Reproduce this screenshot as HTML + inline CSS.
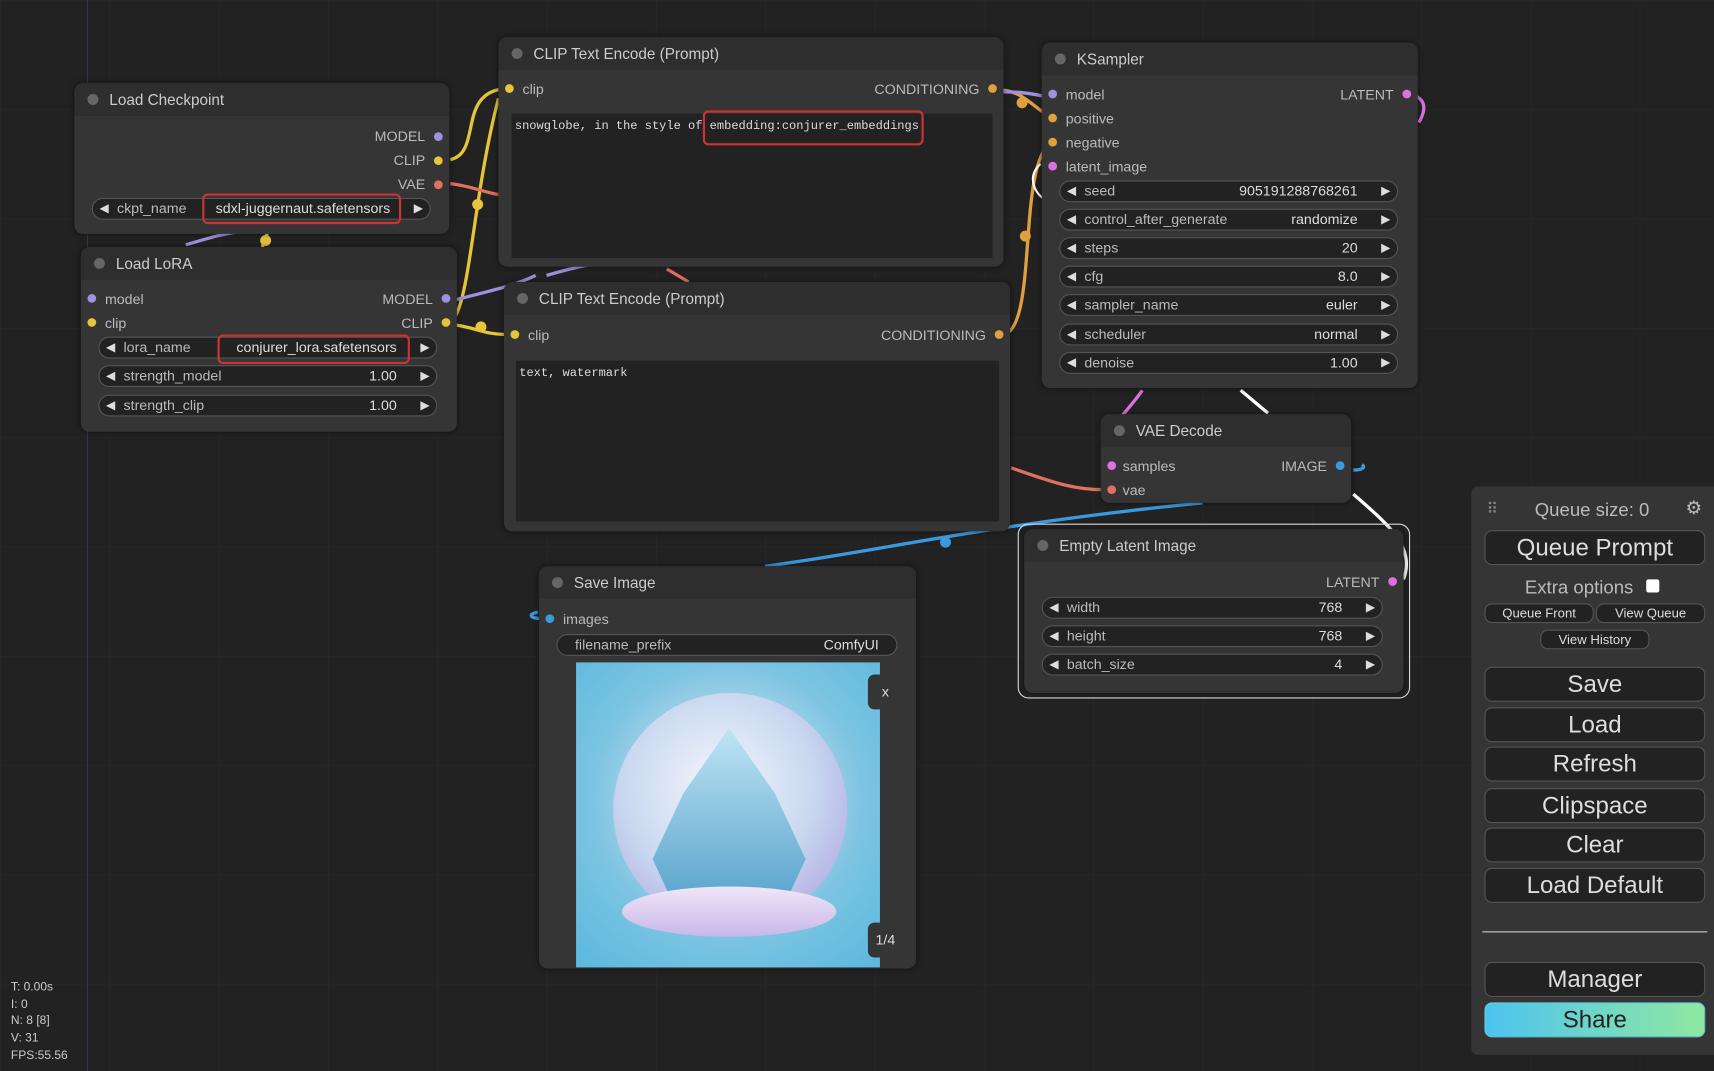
<!DOCTYPE html>
<html><head><meta charset="utf-8">
<style>
*{box-sizing:border-box;margin:0;padding:0}
html,body{width:1714px;height:1071px;overflow:hidden;background:#222}
#w{position:absolute;left:0;top:0;width:1568px;height:980px;transform:scale(1.0931);transform-origin:0 0;font-family:"Liberation Sans",sans-serif;color:#ddd;
background-color:#222;background-image:linear-gradient(#262626 1px,transparent 1px),linear-gradient(90deg,#262626 1px,transparent 1px);background-size:100px 100px}
.n{position:absolute;background:#353535;border-radius:8px;box-shadow:0 0 6px rgba(0,0,0,.5)}
.t{height:30px;background:#2e2e2e;border-radius:8px 8px 0 0;font-size:14px;color:#ccc;line-height:30px;padding-left:32px;position:relative}
.t:before{content:"";position:absolute;left:12px;top:10px;width:10px;height:10px;border-radius:50%;background:#666}
.a{position:absolute;font-size:13px;color:#bbb}
.d{position:absolute;width:8px;height:8px;border-radius:50%}
.wd{position:absolute;height:20px;border:1px solid #555;background:#222;border-radius:10px;font-size:13px;color:#bbb;line-height:18px}
.wd .l{position:absolute;left:22px}.wd .v{position:absolute;right:36px;color:#ddd}
.wd:before{content:"◀";position:absolute;left:6px;font-size:11px;color:#ddd}
.wd:after{content:"▶";position:absolute;right:6px;font-size:11px;color:#ddd}
.wd.na:before,.wd.na:after{content:none}
.ta{position:absolute;background:#222;font-family:"Liberation Mono",monospace;font-size:11px;color:#ddd;padding:6px 3px}
.red{position:absolute;border:2px solid #c33;border-radius:5px}
.b{position:absolute;left:12px;width:202px;height:32px;background:#222;border:1px solid #555;border-radius:7px;color:#ddd;font-size:22px;text-align:center;line-height:30px}
.sb{position:absolute;height:18px;background:#222;border:1px solid #555;border-radius:7px;color:#ddd;font-size:12px;text-align:center;line-height:16px}
</style></head><body><div id="w">
<svg width="1568" height="980" style="position:absolute;left:0;top:0" fill="none" stroke-width="3">
<path d="M80 0V980" stroke="#2c3a4c" stroke-width="1"/>
<path d="M412 146 C440 140,420 90,456 82" stroke="#e8c43a"/>
<path d="M408 296 C430 296,430 190,456 90" stroke="#e8c43a"/>
<path d="M408 296 C440 300,440 306,466 306" stroke="#e8c43a"/>
<path d="M412 168 C430 170,440 175,456 178" stroke="#e07060"/>
<path d="M170 224 C200 215,200 215,230 210" stroke="#a090e0"/>
<path d="M240 226 L245 212" stroke="#e8c43a"/>
<path d="M418 274 C440 268,470 262,490 252 M500 252 C520 246,530 244,540 242" stroke="#a090e0"/>
<path d="M610 246 L630 258" stroke="#e07060"/>
<path d="M910 82 C935 82,940 94,962 108" stroke="#e0a040"/>
<path d="M918 306 C950 300,930 150,962 130" stroke="#e0a040"/>
<path d="M918 84 C935 84,945 86,955 88" stroke="#a090e0"/>
<path d="M1290 86 C1305 90,1305 100,1298 112" stroke="#e070e0"/>
<path d="M952 150 C940 160,945 175,955 182" stroke="#fff" stroke-width="2"/>
<path d="M1045 357 C1030 380,1000 400,1017 426" stroke="#e070e0"/>
<path d="M1135 357 L1160 378" stroke="#fff"/>
<path d="M925 428 C960 440,980 448,1010 448" stroke="#e07060"/>
<path d="M1238 430 C1245 430,1250 428,1246 425" stroke="#3a9ae0"/>
<path d="M1238 452 C1270 480,1295 500,1284 530" stroke="#fff"/>
<path d="M700 518 C800 505,900 480,1100 460" stroke="#3a9ae0"/>
<circle cx="865" cy="496" r="5" fill="#3a9ae0" stroke="none"/>
<path d="M497 566 C485 566,482 562,492 560" stroke="#3a9ae0"/>
<circle cx="437" cy="187" r="5" fill="#e8c43a" stroke="none"/>
<circle cx="440" cy="299" r="5" fill="#e8c43a" stroke="none"/>
<circle cx="935" cy="94" r="5" fill="#e0a040" stroke="none"/>
<circle cx="938" cy="216" r="5" fill="#e0a040" stroke="none"/>
<circle cx="243" cy="220" r="5" fill="#e8c43a" stroke="none"/>
</svg>

<div class="n" style="left:68px;top:76px;width:343px;height:138px"><div class="t">Load Checkpoint</div>
<div class="a" style="right:22px;top:41px">MODEL</div><div class="d" style="right:6px;top:45px;background:#a090e0"></div>
<div class="a" style="right:22px;top:63px">CLIP</div><div class="d" style="right:6px;top:67px;background:#e8c43a"></div>
<div class="a" style="right:22px;top:85px">VAE</div><div class="d" style="right:6px;top:89px;background:#e07060"></div>
<div class="wd" style="left:16px;top:105px;width:310px"><span class="l">ckpt_name</span><span class="v">sdxl-juggernaut.safetensors</span></div>
<div class="red" style="left:117px;top:101px;width:182px;height:28px"></div>
</div>
<div class="n" style="left:74px;top:226px;width:344px;height:169px"><div class="t">Load LoRA</div>
<div class="d" style="left:6px;top:43px;background:#a090e0"></div><div class="a" style="left:22px;top:40px">model</div>
<div class="d" style="left:6px;top:65px;background:#e8c43a"></div><div class="a" style="left:22px;top:62px">clip</div>
<div class="a" style="right:22px;top:40px">MODEL</div><div class="d" style="right:6px;top:43px;background:#a090e0"></div>
<div class="a" style="right:22px;top:62px">CLIP</div><div class="d" style="right:6px;top:65px;background:#e8c43a"></div>
<div class="wd" style="left:16px;top:82px;width:310px"><span class="l">lora_name</span><span class="v">conjurer_lora.safetensors</span></div>
<div class="red" style="left:125px;top:80px;width:176px;height:27px"></div>
<div class="wd" style="left:16px;top:108px;width:310px"><span class="l">strength_model</span><span class="v">1.00</span></div>
<div class="wd" style="left:16px;top:135px;width:310px"><span class="l">strength_clip</span><span class="v">1.00</span></div>
</div>
<div class="n" style="left:456px;top:34px;width:462px;height:210px"><div class="t">CLIP Text Encode (Prompt)</div>
<div class="d" style="left:6px;top:43px;background:#e8c43a"></div><div class="a" style="left:22px;top:40px">clip</div>
<div class="a" style="right:22px;top:40px">CONDITIONING</div><div class="d" style="right:6px;top:43px;background:#e0a040"></div>
<div class="ta" style="left:12px;top:70px;width:440px;height:132px">snowglobe, in the style of embedding:conjurer_embeddings</div>
<div class="red" style="left:187px;top:67px;width:202px;height:32px"></div>
</div>
<div class="n" style="left:461px;top:258px;width:463px;height:228px"><div class="t">CLIP Text Encode (Prompt)</div>
<div class="d" style="left:6px;top:44px;background:#e8c43a"></div><div class="a" style="left:22px;top:41px">clip</div>
<div class="a" style="right:22px;top:41px">CONDITIONING</div><div class="d" style="right:6px;top:44px;background:#e0a040"></div>
<div class="ta" style="left:11px;top:72px;width:442px;height:147px">text, watermark</div>
</div>
<div class="n" style="left:953px;top:39px;width:344px;height:316px"><div class="t">KSampler</div>
<div class="d" style="left:6px;top:43px;background:#a090e0"></div><div class="a" style="left:22px;top:40px">model</div>
<div class="d" style="left:6px;top:65px;background:#e0a040"></div><div class="a" style="left:22px;top:62px">positive</div>
<div class="d" style="left:6px;top:87px;background:#e0a040"></div><div class="a" style="left:22px;top:84px">negative</div>
<div class="d" style="left:6px;top:109px;background:#e070e0"></div><div class="a" style="left:22px;top:106px">latent_image</div>
<div class="a" style="right:22px;top:40px">LATENT</div><div class="d" style="right:6px;top:43px;background:#e070e0"></div>
<div class="wd" style="left:16px;top:126px;width:310px"><span class="l">seed</span><span class="v">905191288768261</span></div>
<div class="wd" style="left:16px;top:152px;width:310px"><span class="l">control_after_generate</span><span class="v">randomize</span></div>
<div class="wd" style="left:16px;top:178px;width:310px"><span class="l">steps</span><span class="v">20</span></div>
<div class="wd" style="left:16px;top:204px;width:310px"><span class="l">cfg</span><span class="v">8.0</span></div>
<div class="wd" style="left:16px;top:230px;width:310px"><span class="l">sampler_name</span><span class="v">euler</span></div>
<div class="wd" style="left:16px;top:257px;width:310px"><span class="l">scheduler</span><span class="v">normal</span></div>
<div class="wd" style="left:16px;top:283px;width:310px"><span class="l">denoise</span><span class="v">1.00</span></div>
</div>
<div class="n" style="left:1007px;top:379px;width:229px;height:81px"><div class="t">VAE Decode</div>
<div class="d" style="left:6px;top:43px;background:#e070e0"></div><div class="a" style="left:20px;top:40px">samples</div>
<div class="d" style="left:6px;top:65px;background:#e07060"></div><div class="a" style="left:20px;top:62px">vae</div>
<div class="a" style="right:22px;top:40px">IMAGE</div><div class="d" style="right:6px;top:43px;background:#3a9ae0"></div>
</div>
<div style="position:absolute;left:931px;top:479px;width:359px;height:160px;border:1.5px solid #ddd;border-radius:10px"></div>
<div class="n" style="left:937px;top:484px;width:347px;height:150px"><div class="t">Empty Latent Image</div>
<div class="a" style="right:22px;top:41px">LATENT</div><div class="d" style="right:6px;top:44px;background:#e070e0"></div>
<div class="wd" style="left:16px;top:62px;width:312px"><span class="l">width</span><span class="v">768</span></div>
<div class="wd" style="left:16px;top:88px;width:312px"><span class="l">height</span><span class="v">768</span></div>
<div class="wd" style="left:16px;top:114px;width:312px"><span class="l">batch_size</span><span class="v">4</span></div>
</div>
<div class="n" style="left:493px;top:518px;width:345px;height:368px"><div class="t">Save Image</div>
<div class="d" style="left:6px;top:44px;background:#3a9ae0"></div><div class="a" style="left:22px;top:41px">images</div>
<div class="wd na" style="left:16px;top:62px;width:312px"><span class="l" style="left:16px">filename_prefix</span><span class="v" style="right:16px">ComfyUI</span></div>
<div style="position:absolute;left:34px;top:88px;width:278px;height:279px;background:radial-gradient(circle at 50% 45%,#dfe9f5 0,#b9d8ea 30%,#7cc4e2 60%,#5ab8de 100%)">
<div style="position:absolute;left:34px;top:28px;width:214px;height:214px;border-radius:50%;background:radial-gradient(circle at 45% 40%,#f4f6fb,#c9d8f0 50%,#b0a8e0 85%,#e8c8f0);"></div>
<div style="position:absolute;left:70px;top:60px;width:140px;height:150px;background:linear-gradient(#bfe4f4,#5fa8cf);clip-path:polygon(50% 0,80% 40%,100% 80%,90% 100%,10% 100%,0 80%,20% 40%)"></div>
<div style="position:absolute;left:42px;top:205px;width:196px;height:46px;border-radius:50%;background:linear-gradient(#f0e6f8,#c8b8e8)"></div>
</div>
<div style="position:absolute;left:301px;top:99px;width:32px;height:32px;background:#353535;border-radius:6px;color:#ddd;font-size:13px;text-align:center;line-height:32px">x</div>
<div style="position:absolute;left:301px;top:326px;width:32px;height:32px;background:#353535;border-radius:6px;color:#ddd;font-size:13px;text-align:center;line-height:32px">1/4</div>
</div>
<div style="position:absolute;left:1346px;top:445px;width:230px;height:520px;background:#353535;border-radius:6px">
<div style="position:absolute;left:14px;top:12px;color:#888;font-size:14px">⠿</div>
<div style="position:absolute;left:58px;top:12px;color:#bbb;font-size:17px">Queue size: 0</div>
<div style="position:absolute;left:196px;top:10px;color:#bbb;font-size:17px">⚙</div>
<div class="b" style="top:40px;font-size:22px">Queue Prompt</div>
<div style="position:absolute;left:49px;top:83px;color:#bbb;font-size:17px">Extra options</div>
<div style="position:absolute;left:160px;top:85px;width:12px;height:12px;background:#fff;border-radius:2px"></div>
<div class="sb" style="left:12px;top:107px;width:100px">Queue Front</div>
<div class="sb" style="left:114px;top:107px;width:100px">View Queue</div>
<div class="sb" style="left:63px;top:131px;width:100px">View History</div>
<div class="b" style="top:165px">Save</div>
<div class="b" style="top:202px">Load</div>
<div class="b" style="top:238px">Refresh</div>
<div class="b" style="top:276px">Clipspace</div>
<div class="b" style="top:312px">Clear</div>
<div class="b" style="top:349px">Load Default</div>
<div style="position:absolute;left:10px;top:407px;width:206px;height:1px;background:#ccc"></div>
<div class="b" style="top:435px">Manager</div>
<div class="b" style="top:472px;background:linear-gradient(90deg,#4cc4f0,#90e8a0);border-color:#6cd;color:#222">Share</div>
</div>
<div style="position:absolute;left:10px;top:896px;font-size:11px;color:#ccc;line-height:15.7px">T: 0.00s<br>I: 0<br>N: 8 [8]<br>V: 31<br>FPS:55.56</div>
</div></body></html>
